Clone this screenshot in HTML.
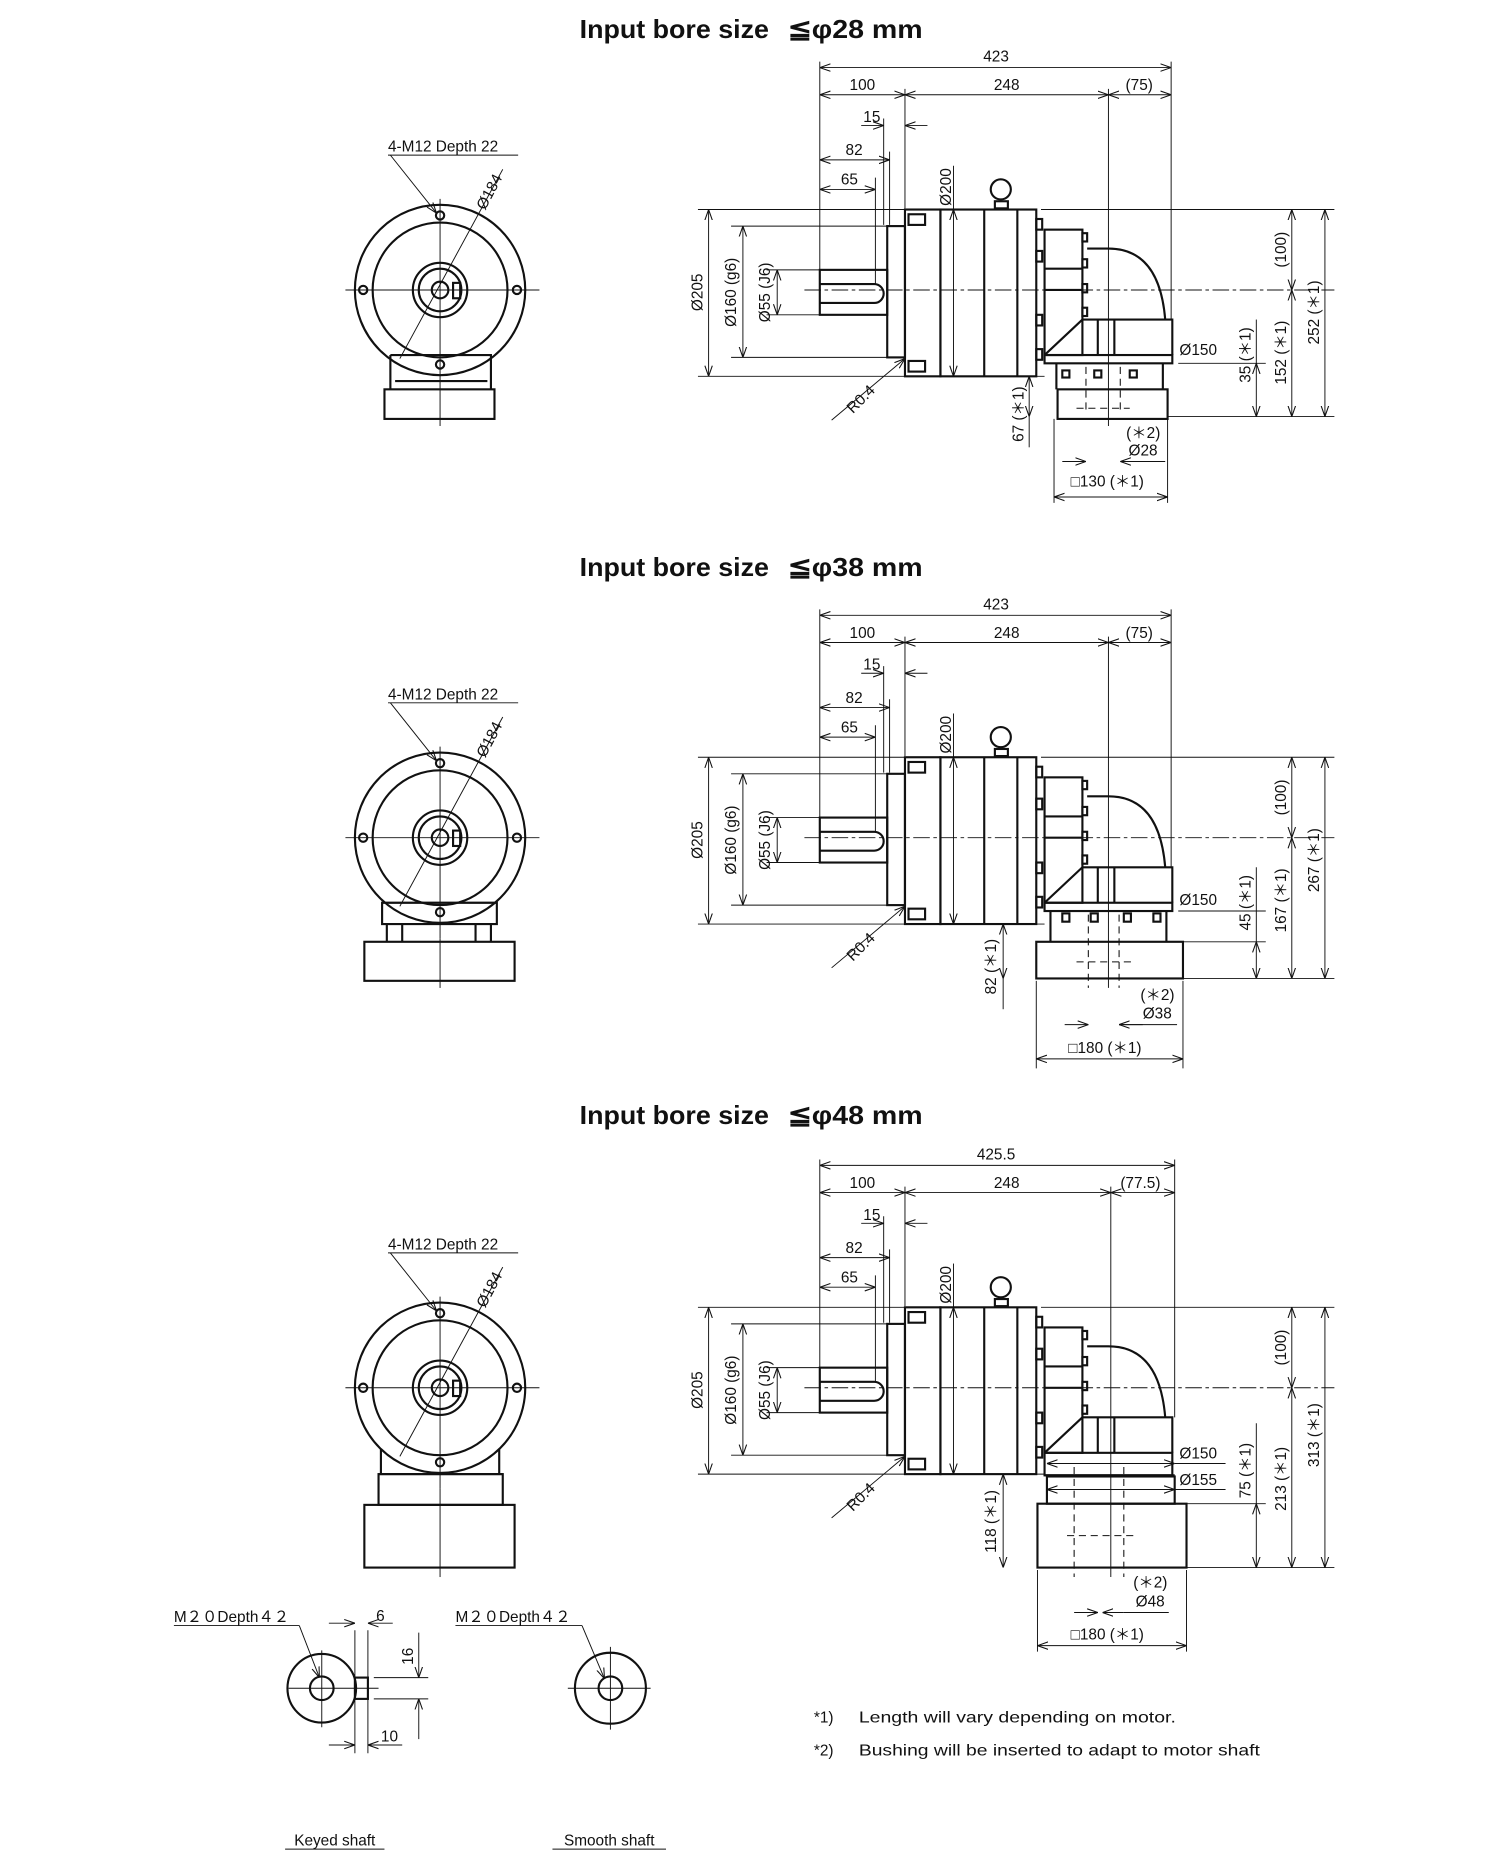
<!DOCTYPE html>
<html><head><meta charset="utf-8"><style>
html,body{margin:0;padding:0;background:#fff}
svg{display:block}
text{font-family:"Liberation Sans",sans-serif;fill:#111}
.t{font-size:13px}
.h{font-family:"Liberation Sans",sans-serif;font-weight:bold;font-size:22px}
.k{stroke:#111;fill:none;stroke-width:1.8}
.n{stroke:#111;fill:none;stroke-width:0.8}
.c{stroke:#111;fill:none;stroke-width:0.8;stroke-dasharray:14 3 3 3}
.d{stroke:#111;fill:none;stroke-width:0.9;stroke-dasharray:6 4}
.dm{stroke:#111;fill:none;stroke-width:0.8;marker-start:url(#a);marker-end:url(#a)}
.de{stroke:#111;fill:none;stroke-width:0.8;marker-end:url(#a)}
</style></head><body>
<svg width="1500" height="1854" viewBox="0 0 1268 1567" xmlns="http://www.w3.org/2000/svg">
<defs>
<marker id="a" viewBox="0 0 10 10" refX="10" refY="5" markerWidth="9" markerHeight="9" markerUnits="userSpaceOnUse" orient="auto-start-reverse"><path d="M0,1.5 L10,5 L0,8.5" fill="none" stroke="#111" stroke-width="1"/></marker>
<g id="front">
<circle cx="372" cy="245" r="72" class="k"/>
<circle cx="372" cy="245" r="57" class="k" stroke-width="1.4"/>
<circle cx="372" cy="245" r="23" class="k" stroke-width="3"/>
<circle cx="372" cy="245" r="18" class="k" stroke-width="1.2"/>
<circle cx="372" cy="245" r="7" class="k"/>
<rect x="383" y="239" width="6" height="13" class="k" stroke-width="1.3"/>
<circle cx="372" cy="182" r="3.5" class="k" stroke-width="1.3"/>
<circle cx="372" cy="308" r="3.5" class="k" stroke-width="1.3"/>
<circle cx="307" cy="245" r="3.5" class="k" stroke-width="1.3"/>
<circle cx="437" cy="245" r="3.5" class="k" stroke-width="1.3"/>
<path d="M292,245 H456 M372,168 V330" class="n"/>
<path d="M330,131 L369,180" class="de"/>
<path d="M328,131 H438" class="n"/>
<path d="M338,303 L425,143" class="n"/>
</g>
<g id="side">
<rect x="693" y="228" width="57" height="38" class="k"/>
<path d="M693,240 H739 A8,8 0 0 1 739,256 H693" class="k" stroke-width="1.3"/>
<rect x="750" y="191" width="15" height="111" class="k" stroke-width="1.5"/>
<rect x="765" y="177" width="30" height="141" class="k" stroke-width="2.2"/>
<rect x="768" y="181" width="14" height="9" class="k" stroke-width="1"/>
<rect x="768" y="305" width="14" height="9" class="k" stroke-width="1"/>
<rect x="795" y="177" width="81" height="141" class="k"/>
<path d="M832,177 V318 M860,177 V318" class="k" stroke-width="1.4"/>
<circle cx="846" cy="160" r="8.5" class="k" stroke-width="2.4"/>
<rect x="841" y="170" width="11" height="6" class="k" stroke-width="1.5"/>
<rect x="876" y="185" width="5" height="9" class="k" stroke-width="1"/>
<rect x="876" y="212" width="5" height="9" class="k" stroke-width="1"/>
<rect x="876" y="266" width="5" height="9" class="k" stroke-width="1"/>
<rect x="876" y="295" width="5" height="9" class="k" stroke-width="1"/>
<rect x="883" y="194" width="32" height="106" class="k"/>
<path d="M883,227 H915 M883,245 H915" class="k" stroke-width="1.2"/>
<rect x="915" y="197" width="4" height="7" class="k" stroke-width="1"/>
<rect x="915" y="219" width="4" height="7" class="k" stroke-width="1"/>
<rect x="915" y="240" width="4" height="7" class="k" stroke-width="1"/>
<rect x="915" y="260" width="4" height="7" class="k" stroke-width="1"/>
<path d="M919,210 H937 Q980,210 985,270" class="k" stroke-width="1.6"/>
<path d="M915,270 H991 V300 M883,300 L915,270 M928,270 V300 M942,270 V300" class="k" stroke-width="1.6"/>
<path d="M680,245 H1128" class="c"/>
</g>
</defs>

<!-- ========== SECTION 1 ========== -->
<text x="490" y="32" class="h" textLength="160" lengthAdjust="spacingAndGlyphs">Input bore size</text><text x="666" y="32" class="h" textLength="114" lengthAdjust="spacingAndGlyphs">≦φ28 mm</text>
<use href="#front"/>
<text x="328" y="128" class="t" font-size="12">4-M12  Depth 22</text>
<text transform="translate(410,178) rotate(-62)" class="t">Ø184</text>
<path d="M330,300 H415 V329 M330,300 V329 M334,322 H412" class="k" stroke-width="1.3"/>
<rect x="325" y="329" width="93" height="25" class="k"/>
<path d="M372,330 V360" class="n"/>
<use href="#side"/>
<rect x="883" y="300" width="108" height="7" class="k" stroke-width="2.2"/>
<path d="M893,307 V329 M983,307 V329" class="k" stroke-width="1.3"/>
<rect x="898" y="313" width="6" height="6" class="k" stroke-width="1"/>
<rect x="925" y="313" width="6" height="6" class="k" stroke-width="1"/>
<rect x="955" y="313" width="6" height="6" class="k" stroke-width="1"/>
<rect x="894" y="329" width="93" height="25" class="k"/>
<path d="M918,310 V350 M947,310 V350 M910,345 H955" class="d"/>
<path d="M937,75 V360" class="n"/>
<g>
<path d="M693,52 V228 M765,75 V176 M990,52 V270 M747,100 V190 M752,128 V190 M740,150 V240" class="n"/>
<path d="M693,57 H990" class="dm"/><text x="842" y="52" class="t" text-anchor="middle">423</text>
<path d="M693,80 H765" class="dm"/><text x="729" y="76" class="t" text-anchor="middle">100</text>
<path d="M765,80 H937" class="dm"/><text x="851" y="76" class="t" text-anchor="middle">248</text>
<path d="M937,80 H990" class="dm"/><text x="963" y="76" class="t" text-anchor="middle">(75)</text>
<path d="M728,106 H747" class="de"/><path d="M784,106 H765" class="de"/><text x="737" y="103" class="t" text-anchor="middle">15</text>
<path d="M693,135 H752" class="dm"/><text x="722" y="131" class="t" text-anchor="middle">82</text>
<path d="M693,160 H740" class="dm"/><text x="718" y="156" class="t" text-anchor="middle">65</text>
<path d="M590,177 H765 M590,318 H765 M618,191 H750 M618,302 H750 M648,228 H693 M648,266 H693" class="n"/>
<path d="M599,177 V318" class="dm"/><text transform="translate(594,247) rotate(-90)" class="t" text-anchor="middle">Ø205</text>
<path d="M628,191 V302" class="dm"/><text transform="translate(622,247) rotate(-90)" class="t" text-anchor="middle">Ø160 (g6)</text>
<path d="M657,228 V266" class="dm"/><text transform="translate(651,247) rotate(-90)" class="t" text-anchor="middle">Ø55 (J6)</text>
<path d="M806,140 V177" class="n"/><path d="M806,177 V318" class="dm"/><text transform="translate(804,158) rotate(-90)" class="t" text-anchor="middle">Ø200</text>
<path d="M703,355 L765,303" class="de"/><text transform="translate(721,350) rotate(-45)" class="t">R0.4</text>
<path d="M880,177 H1128 M987,352 H1128 M996,307 H1070 M870,318 H883" class="n"/>
<path d="M1092,177 V245" class="dm"/><text transform="translate(1087,211) rotate(-90)" class="t" text-anchor="middle">(100)</text>
<path d="M1062,307 V352" class="dm"/><path d="M1062,270 V307" class="n"/><text transform="translate(1057,300) rotate(-90)" class="t" text-anchor="middle">35 (＊1)</text>
<path d="M1092,245 V352" class="dm"/><text transform="translate(1087,298) rotate(-90)" class="t" text-anchor="middle">152 (＊1)</text>
<path d="M1120,177 V352" class="dm"/><text transform="translate(1115,264) rotate(-90)" class="t" text-anchor="middle">252 (＊1)</text>
<text x="997" y="300" class="t">Ø150</text>
<path d="M870,318 V352" class="dm"/><path d="M870,352 V378" class="n"/><text transform="translate(865,350) rotate(-90)" class="t" text-anchor="middle">67 (＊1)</text>
<text x="952" y="370" class="t">(＊2)</text><text x="954" y="385" class="t">Ø28</text>
<path d="M898,390 H918" class="de"/><path d="M965,390 H947" class="de"/><path d="M947,390 H985" class="n"/>
<path d="M891,354 V425 M987,354 V425" class="n"/>
<text x="905" y="411" class="t">□130 (＊1)</text>
<path d="M891,420 H987" class="dm"/>
</g>

<!-- ========== SECTION 2 ========== -->
<text x="490" y="487" class="h" textLength="160" lengthAdjust="spacingAndGlyphs">Input bore size</text><text x="666" y="487" class="h" textLength="114" lengthAdjust="spacingAndGlyphs">≦φ38 mm</text>
<g transform="translate(0,463)">
<use href="#front"/>
<text x="328" y="128" class="t" font-size="12">4-M12  Depth 22</text>
<text transform="translate(410,178) rotate(-62)" class="t">Ø184</text>
<path d="M323,300 H420 V318 H323 Z" class="k" stroke-width="1.3"/>
<path d="M327,318 V333 M415,318 V333 M340,318 V333 M402,318 V333" class="k" stroke-width="1.2"/>
<rect x="308" y="333" width="127" height="33" class="k"/>
<path d="M372,330 V372" class="n"/>
<use href="#side"/>
<rect x="883" y="300" width="108" height="7" class="k" stroke-width="2.2"/>
<path d="M888,307 V333 M986,307 V333" class="k" stroke-width="1.3"/>
<rect x="898" y="309" width="6" height="7" class="k" stroke-width="1"/>
<rect x="922" y="309" width="6" height="7" class="k" stroke-width="1"/>
<rect x="950" y="309" width="6" height="7" class="k" stroke-width="1"/>
<rect x="975" y="309" width="6" height="7" class="k" stroke-width="1"/>
<rect x="876" y="333" width="124" height="31" class="k"/>
<path d="M920,310 V372 M946,310 V372 M910,350 H958" class="d"/>
<path d="M937,75 V372" class="n"/>
<path d="M693,52 V228 M765,75 V176 M990,52 V270 M747,100 V190 M752,128 V190 M740,150 V240" class="n"/>
<path d="M693,57 H990" class="dm"/><text x="842" y="52" class="t" text-anchor="middle">423</text>
<path d="M693,80 H765" class="dm"/><text x="729" y="76" class="t" text-anchor="middle">100</text>
<path d="M765,80 H937" class="dm"/><text x="851" y="76" class="t" text-anchor="middle">248</text>
<path d="M937,80 H990" class="dm"/><text x="963" y="76" class="t" text-anchor="middle">(75)</text>
<path d="M728,106 H747" class="de"/><path d="M784,106 H765" class="de"/><text x="737" y="103" class="t" text-anchor="middle">15</text>
<path d="M693,135 H752" class="dm"/><text x="722" y="131" class="t" text-anchor="middle">82</text>
<path d="M693,160 H740" class="dm"/><text x="718" y="156" class="t" text-anchor="middle">65</text>
<path d="M590,177 H765 M590,318 H765 M618,191 H750 M618,302 H750 M648,228 H693 M648,266 H693" class="n"/>
<path d="M599,177 V318" class="dm"/><text transform="translate(594,247) rotate(-90)" class="t" text-anchor="middle">Ø205</text>
<path d="M628,191 V302" class="dm"/><text transform="translate(622,247) rotate(-90)" class="t" text-anchor="middle">Ø160 (g6)</text>
<path d="M657,228 V266" class="dm"/><text transform="translate(651,247) rotate(-90)" class="t" text-anchor="middle">Ø55 (J6)</text>
<path d="M806,140 V177" class="n"/><path d="M806,177 V318" class="dm"/><text transform="translate(804,158) rotate(-90)" class="t" text-anchor="middle">Ø200</text>
<path d="M703,355 L765,303" class="de"/><text transform="translate(721,350) rotate(-45)" class="t">R0.4</text>
<path d="M880,177 H1128 M1000,364 H1128 M996,307 H1070 M842,318 H883 M986,333 H1070" class="n"/>
<path d="M1092,177 V245" class="dm"/><text transform="translate(1087,211) rotate(-90)" class="t" text-anchor="middle">(100)</text>
<path d="M1062,333 V364" class="dm"/><path d="M1062,270 V333" class="n"/><text transform="translate(1057,300) rotate(-90)" class="t" text-anchor="middle">45 (＊1)</text>
<path d="M1092,245 V364" class="dm"/><text transform="translate(1087,298) rotate(-90)" class="t" text-anchor="middle">167 (＊1)</text>
<path d="M1120,177 V364" class="dm"/><text transform="translate(1115,264) rotate(-90)" class="t" text-anchor="middle">267 (＊1)</text>
<text x="997" y="302" class="t">Ø150</text>
<path d="M848,318 V364" class="dm"/><path d="M848,364 V390" class="n"/><text transform="translate(842,354) rotate(-90)" class="t" text-anchor="middle">82 (＊1)</text>
<text x="964" y="382" class="t">(＊2)</text><text x="966" y="398" class="t">Ø38</text>
<path d="M900,403 H920" class="de"/><path d="M966,403 H946" class="de"/><path d="M946,403 H995" class="n"/>
<path d="M876,366 V440 M1000,366 V440" class="n"/>
<text x="903" y="427" class="t">□180 (＊1)</text>
<path d="M876,432 H1000" class="dm"/>
</g>

<!-- ========== SECTION 3 ========== -->
<text x="490" y="950" class="h" textLength="160" lengthAdjust="spacingAndGlyphs">Input bore size</text><text x="666" y="950" class="h" textLength="114" lengthAdjust="spacingAndGlyphs">≦φ48 mm</text>
<g transform="translate(0,928)">
<use href="#front"/>
<text x="328" y="128" class="t" font-size="12">4-M12  Depth 22</text>
<text transform="translate(410,178) rotate(-62)" class="t">Ø184</text>
<path d="M322,297 V318 M422,297 V318" class="k" stroke-width="1.3"/>
<rect x="320" y="318" width="105" height="26" class="k" stroke-width="1.4"/>
<path d="M320,318 H425" class="k" stroke-width="3"/>
<rect x="308" y="344" width="127" height="53" class="k"/>
<path d="M372,330 V405" class="n"/>
<use href="#side"/>
<rect x="883" y="300" width="108" height="19" class="k" stroke-width="1.4"/>
<path d="M883,319 H993" class="k" stroke-width="3"/>
<rect x="885" y="320" width="108" height="23" class="k" stroke-width="1.4"/>
<rect x="877" y="343" width="126" height="54" class="k"/>
<path d="M908,312 V405 M950,312 V405 M902,370 H960" class="d"/>
<path d="M939,75 V405" class="n"/>
<path d="M693,52 V228 M765,75 V176 M993,52 V270 M747,100 V190 M752,128 V190 M740,150 V240" class="n"/>
<path d="M693,57 H993" class="dm"/><text x="842" y="52" class="t" text-anchor="middle">425.5</text>
<path d="M693,80 H765" class="dm"/><text x="729" y="76" class="t" text-anchor="middle">100</text>
<path d="M765,80 H939" class="dm"/><text x="851" y="76" class="t" text-anchor="middle">248</text>
<path d="M939,80 H993" class="dm"/><text x="964" y="76" class="t" text-anchor="middle">(77.5)</text>
<path d="M728,106 H747" class="de"/><path d="M784,106 H765" class="de"/><text x="737" y="103" class="t" text-anchor="middle">15</text>
<path d="M693,135 H752" class="dm"/><text x="722" y="131" class="t" text-anchor="middle">82</text>
<path d="M693,160 H740" class="dm"/><text x="718" y="156" class="t" text-anchor="middle">65</text>
<path d="M590,177 H765 M590,318 H765 M618,191 H750 M618,302 H750 M648,228 H693 M648,266 H693" class="n"/>
<path d="M599,177 V318" class="dm"/><text transform="translate(594,247) rotate(-90)" class="t" text-anchor="middle">Ø205</text>
<path d="M628,191 V302" class="dm"/><text transform="translate(622,247) rotate(-90)" class="t" text-anchor="middle">Ø160 (g6)</text>
<path d="M657,228 V266" class="dm"/><text transform="translate(651,247) rotate(-90)" class="t" text-anchor="middle">Ø55 (J6)</text>
<path d="M806,140 V177" class="n"/><path d="M806,177 V318" class="dm"/><text transform="translate(804,158) rotate(-90)" class="t" text-anchor="middle">Ø200</text>
<path d="M703,355 L765,303" class="de"/><text transform="translate(721,350) rotate(-45)" class="t">R0.4</text>
<path d="M880,177 H1128 M1003,397 H1128 M993,309 H1036 M993,331 H1036 M842,318 H883 M1003,343 H1070" class="n"/>
<path d="M885,309 H993" class="dm"/><path d="M885,331 H993" class="dm"/>
<text x="997" y="305" class="t">Ø150</text><text x="997" y="327" class="t">Ø155</text>
<path d="M1092,177 V245" class="dm"/><text transform="translate(1087,211) rotate(-90)" class="t" text-anchor="middle">(100)</text>
<path d="M1062,343 V397" class="dm"/><path d="M1062,275 V343" class="n"/><text transform="translate(1057,315) rotate(-90)" class="t" text-anchor="middle">75 (＊1)</text>
<path d="M1092,245 V397" class="dm"/><text transform="translate(1087,322) rotate(-90)" class="t" text-anchor="middle">213 (＊1)</text>
<path d="M1120,177 V397" class="dm"/><text transform="translate(1115,285) rotate(-90)" class="t" text-anchor="middle">313 (＊1)</text>
<path d="M848,318 V397" class="dm"/><text transform="translate(842,358) rotate(-90)" class="t" text-anchor="middle">118 (＊1)</text>
<text x="958" y="414" class="t">(＊2)</text><text x="960" y="430" class="t">Ø48</text>
<path d="M908,435 H928" class="de"/><path d="M950,435 H932" class="de"/><path d="M950,435 H988" class="n"/>
<path d="M877,399 V468 M1003,399 V468" class="n"/>
<text x="905" y="458" class="t">□180 (＊1)</text>
<path d="M877,463 H1003" class="dm"/>
</g>

<!-- ========== SHAFTS ========== -->
<text x="147" y="1371" class="t" font-size="13">M２０Depth４２</text>
<path d="M147,1374 H253" class="n"/><path d="M253,1374 L270,1418" class="de"/>
<circle cx="272" cy="1427" r="29" class="k" stroke-width="1.6"/>
<circle cx="272" cy="1427" r="10" class="k" stroke-width="2.6"/>
<rect x="300" y="1418" width="11" height="18" class="k" stroke-width="1.5"/>
<path d="M244,1427 H320 M272,1395 V1460" class="n"/>
<path d="M300,1378 V1482 M311,1378 V1482" class="n"/>
<path d="M278,1372 H300" class="de"/><path d="M332,1372 H311" class="de"/><text x="318" y="1370" class="t">6</text>
<path d="M316,1418 H362 M316,1436 H362" class="n"/>
<path d="M354,1380 V1418" class="de"/><path d="M354,1470 V1436" class="de"/>
<text transform="translate(349,1400) rotate(-90)" class="t" text-anchor="middle">16</text>
<path d="M278,1475 H300" class="de"/><path d="M340,1475 H311" class="de"/><text x="322" y="1472" class="t">10</text>
<text x="385" y="1371" class="t">M２０Depth４２</text>
<path d="M385,1374 H492" class="n"/><path d="M492,1374 L511,1419" class="de"/>
<circle cx="516" cy="1427" r="30" class="k" stroke-width="1.6"/>
<circle cx="516" cy="1427" r="10" class="k" stroke-width="2.6"/>
<path d="M480,1427 H550 M516,1392 V1462" class="n"/>
<text x="283" y="1560" class="t" font-size="15" text-anchor="middle">Keyed shaft</text>
<path d="M241,1563 H325 M467,1563 H563" class="n"/>
<text x="515" y="1560" class="t" font-size="15" text-anchor="middle">Smooth shaft</text>
<text x="688" y="1456" class="t" font-size="15">*1)</text><text x="726" y="1456" class="t" font-size="16" textLength="268" lengthAdjust="spacingAndGlyphs">Length will vary depending on motor.</text>
<text x="688" y="1484" class="t" font-size="15">*2)</text><text x="726" y="1484" class="t" font-size="16" textLength="339" lengthAdjust="spacingAndGlyphs">Bushing will be inserted to adapt to motor shaft</text>
</svg>
</body></html>
